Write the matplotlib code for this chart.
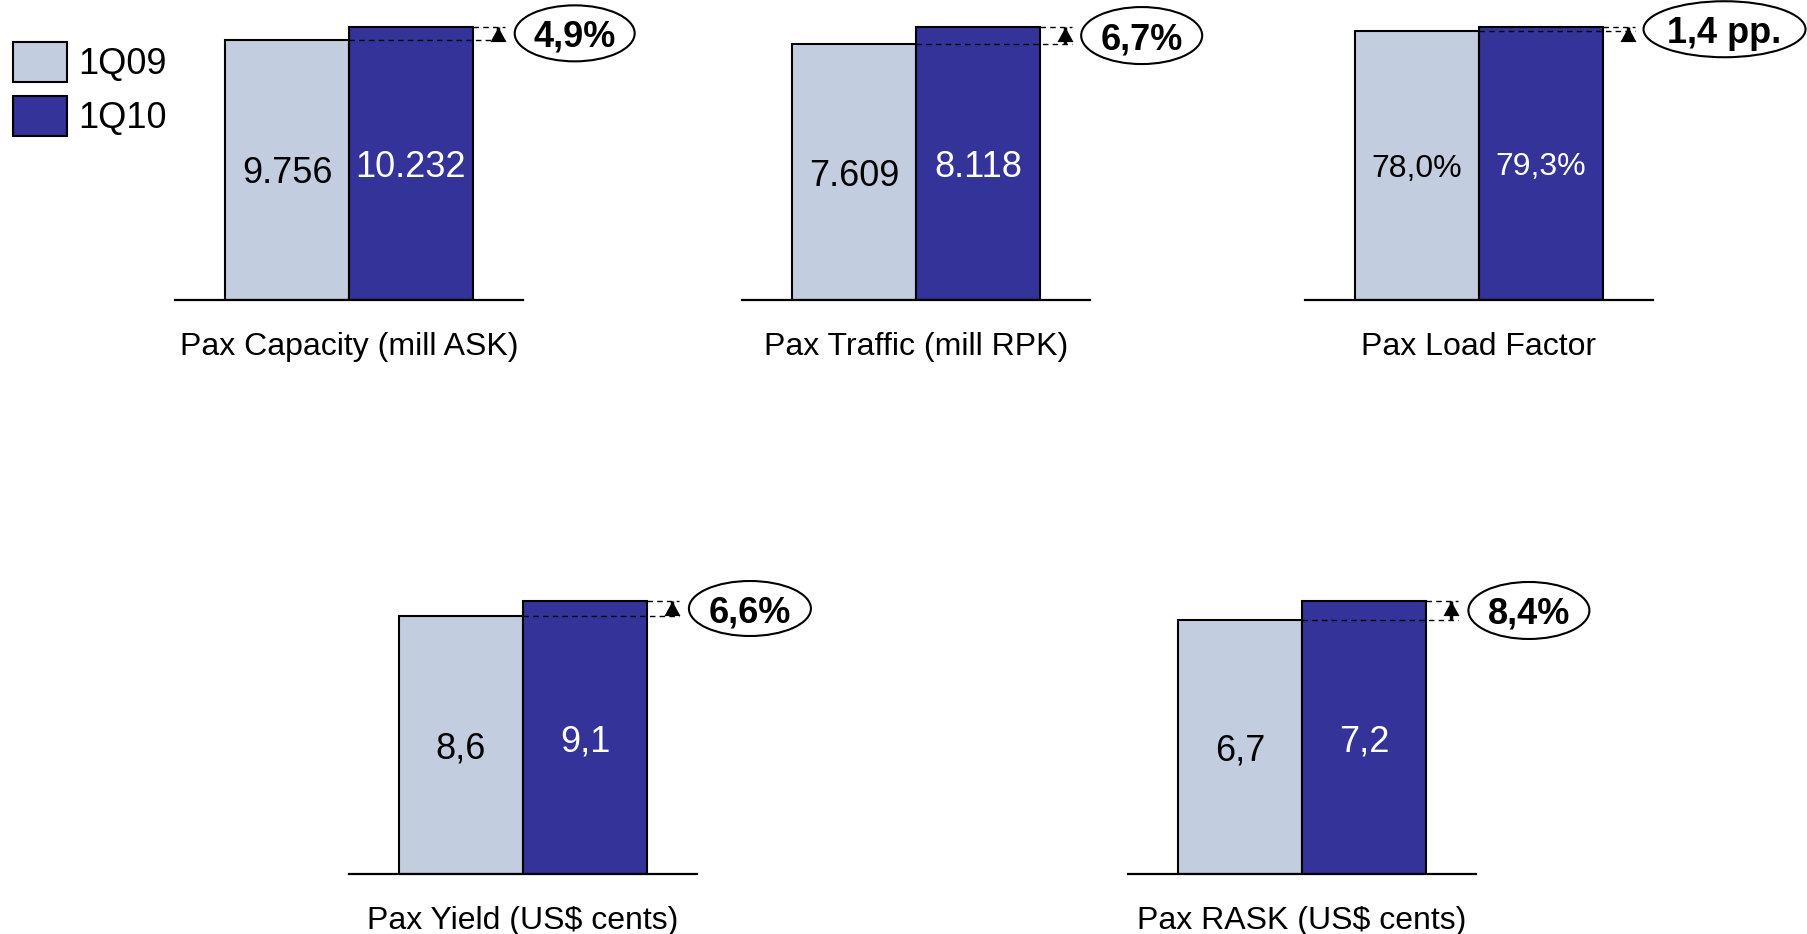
import matplotlib
matplotlib.use('Agg')
import matplotlib.pyplot as plt
from matplotlib.patches import Ellipse, Patch
from matplotlib.transforms import Affine2D, ScaledTranslation

plt.rcParams['font.family'] = ['Liberation Sans', 'DejaVu Sans']

# ---------------- data ----------------
series_names = ['1Q09', '1Q10']
categories = ['Pax Capacity (mill ASK)', 'Pax Traffic (mill RPK)', 'Pax Load Factor',
              'Pax Yield (US$ cents)', 'Pax RASK (US$ cents)']
values_1q09 = [9756, 7609, 78.0, 8.6, 6.7]
values_1q10 = [10232, 8118, 79.3, 9.1, 7.2]
labels_1q09 = ['9.756', '7.609', '78,0%', '8,6', '6,7']
labels_1q10 = ['10.232', '8.118', '79,3%', '9,1', '7,2']
change_labels = ['4,9%', '6,7%', '1,4 pp.', '6,6%', '8,4%']

# ---------------- style / layout ----------------
LIGHT = '#C3CDE0'
DARK = '#333399'
W, H = 1807, 934
BAR_PX = 124          # bar width in pixels
TOP_PX = 273          # pixel height of tallest bar in each panel
YPAD = 1.06
panel_pos = [(225, 300), (792, 300), (1355, 300), (399, 874), (1178, 874)]  # left of first bar, baseline y
value_fs = [26, 26, 23, 26, 26]
ell_dx = [0.82, 0.82, 0.98, 0.83, 0.83]
ell_size = [(120, 56), (121, 57), (162, 56), (122, 55), (121, 57)]

fig = plt.figure(figsize=(W / 100, H / 100), dpi=100)

for i, cat in enumerate(categories):
    x0, base = panel_pos[i]
    v1, v2 = values_1q09[i], values_1q10[i]
    ax_h = TOP_PX * YPAD
    ax = fig.add_axes([(x0 - 0.4 * BAR_PX) / W, (H - base) / H, 2.8 * BAR_PX / W, ax_h / H])
    ax.set_xlim(-0.9, 1.9)
    ax.set_ylim(0, max(v1, v2) * YPAD)
    ax.patch.set_visible(False)
    for s in ['top', 'left', 'right']:
        ax.spines[s].set_visible(False)
    ax.spines['bottom'].set_linewidth(1.6)
    ax.set_xticks([])
    ax.set_yticks([])

    ax.bar([0, 1], [v1, v2], width=1.0, color=[LIGHT, DARK], edgecolor='black',
           linewidth=1.5, zorder=2)
    ax.text(0, v1 / 2, labels_1q09[i], ha='center', va='center_baseline',
            fontsize=value_fs[i], color='black', zorder=4)
    ax.text(1, v2 / 2, labels_1q10[i], ha='center', va='center_baseline',
            fontsize=value_fs[i], color='white', zorder=4)

    # dashed reference lines
    x_end = 1.76
    ax.plot([0.5, x_end], [v1, v1], color='black', lw=1.0, ls=(0, (4, 3)),
            zorder=3, clip_on=False)
    ax.plot([1.5, x_end], [v2, v2], color='black', lw=1.0, ls=(0, (4, 3)),
            zorder=3, clip_on=False)
    # arrow
    xa = 1.70
    ax.plot([xa, xa], [v1, v2], color='black', lw=2.5, zorder=3, clip_on=False,
            solid_capstyle='butt')
    ax.plot([xa], [v2], marker=[(0, 0), (-0.55, -1), (0.55, -1)], markersize=21,
            color='black', markeredgewidth=0, zorder=3, clip_on=False)

    # ellipse with change label
    cx = 1.5 + ell_dx[i]
    cy = (v1 + v2) / 2
    ew, eh = ell_size[i]
    e = Ellipse((0, 0), ew, eh, facecolor='white', edgecolor='black', lw=1.5,
                transform=Affine2D() + ScaledTranslation(cx, cy, ax.transData),
                zorder=4)
    ax.add_artist(e)
    e.set_clip_on(False)
    ax.text(cx, cy, change_labels[i], ha='center', va='center_baseline', fontsize=26,
            fontweight='bold', zorder=5, clip_on=False)

    # category label
    ax.annotate(cat, xy=(0.5, 0), xycoords=('data', 'axes fraction'),
                xytext=(0, -55 * 0.72), textcoords='offset points',
                ha='center', va='baseline', fontsize=23, annotation_clip=False)

handles = [Patch(facecolor=LIGHT, edgecolor='black', linewidth=1.5),
           Patch(facecolor=DARK, edgecolor='black', linewidth=1.5)]
fig.legend(handles=handles, labels=series_names, loc='upper left',
           bbox_to_anchor=(13 / W, 1 - 42 / H), frameon=False, fontsize=26,
           handlelength=1.5, handleheight=1.33, handletextpad=0.3,
           labelspacing=0.39, borderpad=0, borderaxespad=0)

fig.savefig('out.png', dpi=100)
